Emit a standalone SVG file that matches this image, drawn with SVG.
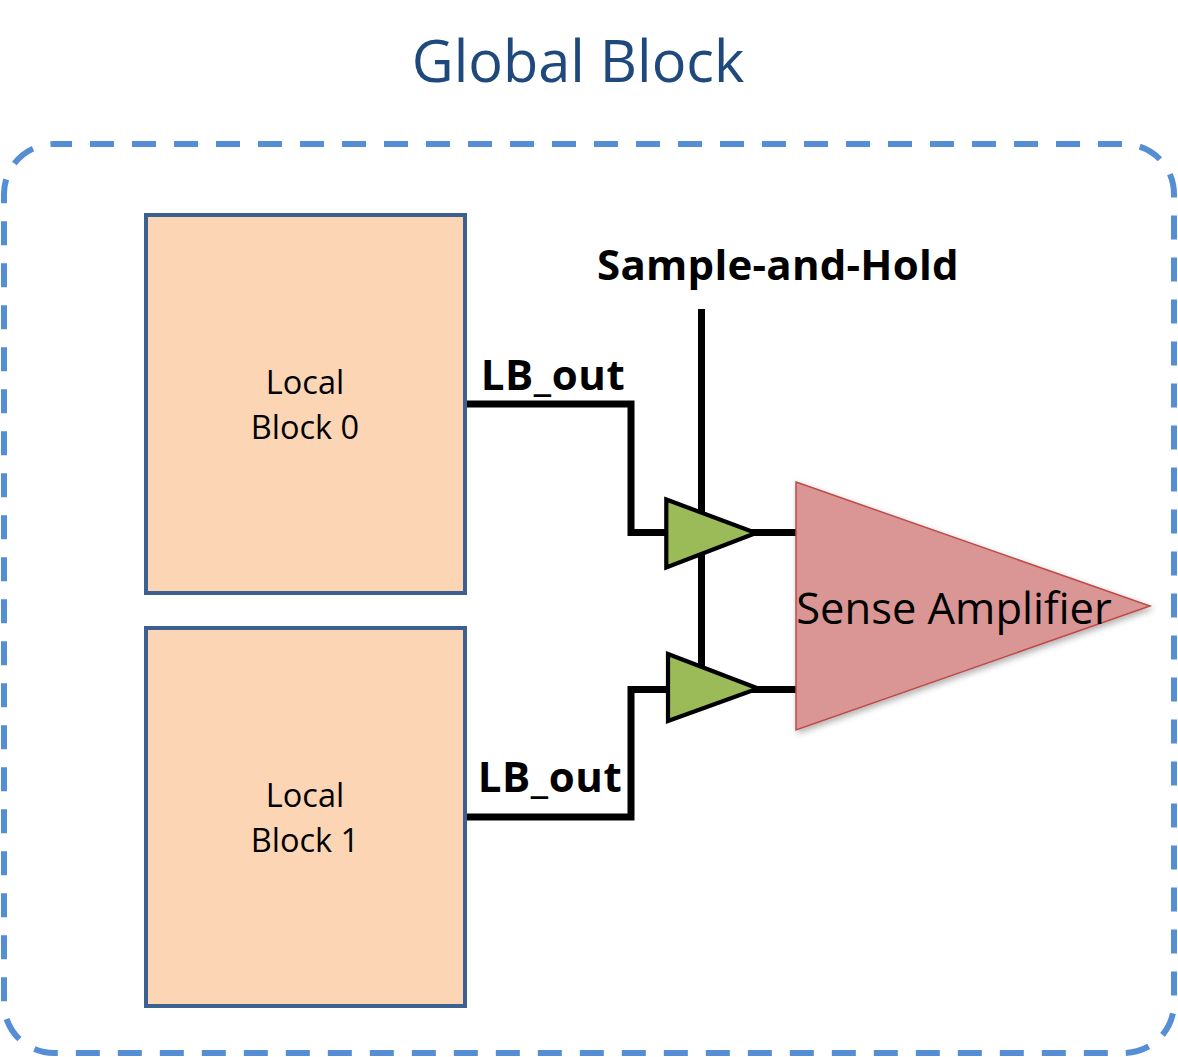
<svg xmlns="http://www.w3.org/2000/svg" width="1178" height="1057" viewBox="0 0 1178 1057">
<defs>
<style>
text{font-family:"Open Sans","Noto Sans",sans-serif;text-anchor:middle}
.blk{fill:#fcd5b5;stroke:#3c6090;stroke-width:4}
.lbl{font-size:32.5px;fill:#000}
.bold{font-size:42px;font-weight:700;fill:#000}
.wire{fill:none;stroke:#000;stroke-width:7}
.buf{fill:#9bbb59;stroke:#000;stroke-width:4.2;stroke-linejoin:miter}
</style>
<filter id="sh" x="-10%" y="-10%" width="120%" height="120%"><feDropShadow dx="2" dy="3" stdDeviation="3" flood-color="#000" flood-opacity="0.3"/></filter>
</defs>
<rect width="1178" height="1057" fill="#fff"/>
<text x="578" y="82" fill="#1f497d" style="font-size:57.7px">Global Block</text>
<g id="global-block"><path d="M54 144H1124A50 50 0 0 1 1174 194V1003A50 50 0 0 1 1124 1053H54A50 50 0 0 1 4 1003V194A50 50 0 0 1 54 144Z" fill="none" stroke="#558ed5" stroke-width="6" stroke-dasharray="24 18" stroke-dashoffset="6"/></g>
<g id="connectors">
<path class="wire" d="M466 404H631V532.5H668"/>
<path class="wire" d="M466 817H631V689.5H668"/>
<path class="wire" d="M701.5 309V520M701.5 555V670"/>
<path class="wire" d="M748 532.5H797M750 689.5H797"/>
</g>
<g id="local-block-0"><rect class="blk" x="146" y="215" width="319" height="378"/><text class="lbl" x="305" y="394">Local</text><text class="lbl" x="305" y="439">Block 0</text></g>
<g id="local-block-1"><rect class="blk" x="146" y="628" width="319" height="378"/><text class="lbl" x="305" y="807">Local</text><text class="lbl" x="305" y="852">Block 1</text></g>
<g id="sense-amplifier"><path d="M796 482L1150 606L796 730Z" fill="#d99694" stroke="#be4b48" stroke-width="1.5" filter="url(#sh)"/><text x="954" y="624" style="font-size:43.5px" fill="#000">Sense Amplifier</text></g>
<g id="buffer-0"><path class="buf" d="M666.3 499.5L756 533L666.3 567.5Z"/></g>
<g id="buffer-1"><path class="buf" d="M668 654L758 688.5L668 721Z"/></g>
<g id="label-sah"><text class="bold" x="778" y="280" style="letter-spacing:.25px">Sample-and-Hold</text></g>
<g id="label-lb0"><text class="bold" x="553" y="390" style="letter-spacing:.6px">LB_out</text></g>
<g id="label-lb1"><text class="bold" x="550" y="792" style="letter-spacing:.6px">LB_out</text></g>
</svg>
